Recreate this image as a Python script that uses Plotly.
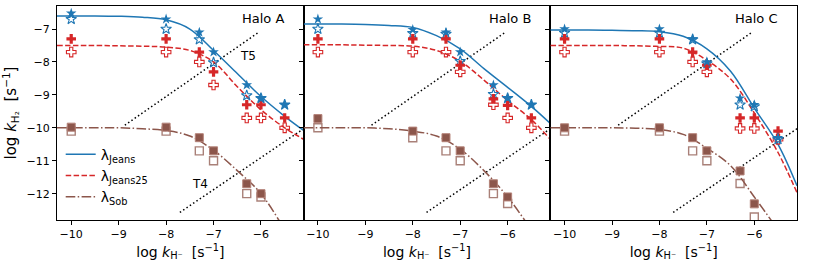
import plotly.graph_objects as go
from plotly.subplots import make_subplots

# ---------------- data ----------------
halo_names = ["Halo A", "Halo B", "Halo C"]

# model curves
curve_x = [-10.3, -9.5, -9.0, -8.5, -8.0, -7.5, -7.0, -6.5, -6.0, -5.5, -5.1]
sob_x = [-10.3, -9.5, -9.0, -8.5, -8.0, -7.5, -7.0, -6.5, -6.0, -5.5]

A_jeans = [-6.60, -6.60, -6.61, -6.64, -6.72, -7.00, -7.65, -8.35, -9.05, -9.65, -10.08]
A_jeans25 = [-7.50, -7.50, -7.51, -7.52, -7.55, -7.65, -8.00, -8.75, -9.45, -10.00, -10.35]
A_sob = [-10.0, -10.0, -10.0, -10.03, -10.08, -10.25, -10.68, -11.30, -12.00, -13.10]

B_jeans = [-6.85, -6.85, -6.86, -6.89, -6.95, -7.20, -7.60, -8.20, -8.77, -9.35, -9.87]
B_jeans25 = [-7.48, -7.48, -7.49, -7.50, -7.52, -7.65, -7.98, -8.55, -9.17, -9.75, -10.35]
B_sob = [-10.0, -10.0, -10.0, -10.03, -10.10, -10.25, -10.65, -11.30, -12.10, -13.10]

C_jeans = [-7.03, -7.03, -7.04, -7.05, -7.08, -7.22, -7.60, -8.28, -9.40, -10.50, -11.76]
C_jeans25 = [-7.50, -7.50, -7.50, -7.51, -7.53, -7.58, -7.95, -8.52, -9.55, -10.75, -11.97]
C_sob = [-10.0, -10.0, -10.0, -10.01, -10.05, -10.20, -10.62, -11.15, -12.10, -13.10]

# simulation points
pts_x = [-10, -8, -7.3, -7, -6.3, -6, -5.5]
sq_x = [-10, -8, -7.3, -7, -6.3, -6]

A_star_f = [-6.52, -6.70, -7.10, -7.70, -8.70, -9.12, -9.30]
A_star_o = [-6.70, -7.00, -7.32, -8.02, -9.02, -9.10, -9.30]
A_plus_f = [-7.30, -7.30, -7.70, -8.30, -9.30, -9.30, -9.70]
A_plus_o = [-7.70, -7.70, -8.00, -8.70, -9.70, -9.70, -10.00]
A_sq_f = [-9.98, -9.98, -10.30, -10.70, -11.70, -12.00]
A_sq_o = [-10.10, -10.10, -10.70, -11.00, -12.00, -12.10]

B_star_f = [-6.70, -7.02, -7.10, -7.70, -8.70, -9.10, -9.30]
B_star_o = [-7.00, -7.13, -7.15, -7.98, -8.98, -9.10, -9.30]
B_plus_f = [-7.30, -7.30, -7.30, -8.10, -9.12, -9.32, -9.70]
B_plus_o = [-7.70, -7.70, -7.70, -8.30, -9.30, -9.70, -10.00]
B_sq_f = [-9.72, -10.10, -10.30, -10.70, -11.70, -12.10]
B_sq_o = [-10.00, -10.30, -10.70, -11.00, -12.00, -12.30]

C_star_f = [-7.00, -7.00, -7.30, -8.00, -9.10, -9.30, -10.30]
C_star_o = [-7.12, -7.12, -7.32, -8.05, -9.30, -9.35, -10.35]
C_plus_f = [-7.30, -7.30, -7.70, -8.10, -9.70, -9.70, -10.10]
C_plus_o = [-7.70, -7.70, -8.00, -8.30, -10.02, -10.02, -10.35]
C_sq_f = [-10.00, -10.00, -10.30, -10.70, -11.31, -12.31]
C_sq_o = [-10.10, -10.10, -10.70, -11.00, -11.69, -12.71]

# temperature guide lines
T5_x = [-8.87, -6.07]
T5_y = [-9.92, -7.12]
T4_x = [-7.71, -5.0]
T4_y = [-12.57, -9.93]

x_ticks = [-10, -9, -8, -7, -6]
y_ticks = [-7, -8, -9, -10, -11, -12]

# ---------------- style ----------------
BLUE = "#1f77b4"
RED = "#d62728"
BROWN = "#8c564b"
FONT = "DejaVu Sans"

panels = [
    (A_jeans, A_jeans25, A_sob, A_star_f, A_star_o, A_plus_f, A_plus_o, A_sq_f, A_sq_o),
    (B_jeans, B_jeans25, B_sob, B_star_f, B_star_o, B_plus_f, B_plus_o, B_sq_f, B_sq_o),
    (C_jeans, C_jeans25, C_sob, C_star_f, C_star_o, C_plus_f, C_plus_o, C_sq_f, C_sq_o),
]

fig = make_subplots(rows=1, cols=3, shared_yaxes=True, horizontal_spacing=0)

for i, (jeans, j25, sob, sf, so, pf, po, qf, qo) in enumerate(panels):
    col = i + 1
    leg = (i == 0)
    # guide lines
    for gx, gy in [(T5_x, T5_y), (T4_x, T4_y)]:
        fig.add_trace(go.Scatter(x=gx, y=gy, mode="lines", showlegend=False,
                                 line=dict(color="black", width=1.5, dash="1.5px,2.5px")),
                      row=1, col=col)
    # curves
    fig.add_trace(go.Scatter(x=curve_x, y=jeans, mode="lines", name="λ<sub>Jeans</sub>",
                             showlegend=leg, line=dict(color=BLUE, width=1.5, shape="spline")),
                  row=1, col=col)
    fig.add_trace(go.Scatter(x=curve_x, y=j25, mode="lines", name="λ<sub>Jeans25</sub>",
                             showlegend=leg, line=dict(color=RED, width=1.5, dash="5.5px,2.4px",
                                                       shape="spline")),
                  row=1, col=col)
    fig.add_trace(go.Scatter(x=sob_x, y=sob, mode="lines", name="λ<sub>Sob</sub>",
                             showlegend=leg, line=dict(color=BROWN, width=1.5,
                                                       dash="9.6px,2.4px,1.5px,2.4px", shape="spline")),
                  row=1, col=col)
    # open markers
    fig.add_trace(go.Scatter(x=sq_x, y=qo, mode="markers", showlegend=False,
                             marker=dict(symbol="square-open", size=8, color="rgba(140,86,75,0.75)",
                                         line=dict(width=1.4))), row=1, col=col)
    fig.add_trace(go.Scatter(x=pts_x, y=po, mode="markers", showlegend=False,
                             marker=dict(symbol="cross-open", size=8, color=RED,
                                         line=dict(width=1.1))), row=1, col=col)
    fig.add_trace(go.Scatter(x=pts_x, y=so, mode="markers", showlegend=False,
                             marker=dict(symbol="star-open", size=8, color=BLUE,
                                         line=dict(width=1.1))), row=1, col=col)
    # filled markers
    fig.add_trace(go.Scatter(x=sq_x, y=qf, mode="markers", showlegend=False,
                             marker=dict(symbol="square", size=8, color=BROWN,
                                         line=dict(width=1, color="rgba(180,130,120,1)"))), row=1, col=col)
    fig.add_trace(go.Scatter(x=pts_x, y=pf, mode="markers", showlegend=False,
                             marker=dict(symbol="cross", size=8, color=RED,
                                         line=dict(width=0))), row=1, col=col)
    fig.add_trace(go.Scatter(x=pts_x, y=sf, mode="markers", showlegend=False,
                             marker=dict(symbol="star", size=8, color=BLUE,
                                         line=dict(width=0))), row=1, col=col)

    fig.add_annotation(x=-5.96, y=-6.69, text=halo_names[i], showarrow=False,
                       font=dict(size=13, color="black", family=FONT),
                       xref=f"x{'' if col == 1 else col}", yref=f"y{'' if col == 1 else col}")

# T labels (only panel A)
fig.add_annotation(x=-6.27, y=-7.83, text="T5", showarrow=False, xref="x", yref="y",
                   font=dict(size=12, color="black", family=FONT))
fig.add_annotation(x=-7.29, y=-11.72, text="T4", showarrow=False, xref="x", yref="y",
                   font=dict(size=12, color="black", family=FONT))

axis_common = dict(showline=True, linecolor="black", linewidth=1, mirror=True,
                   ticks="outside", ticklen=4, tickcolor="black", showgrid=False,
                   zeroline=False, tickfont=dict(size=11, color="black", family=FONT))

for col in range(1, 4):
    fig.update_xaxes(range=[-10.3, -5.1], tickvals=x_ticks,
                     ticktext=["−10", "−9", "−8", "−7", "−6"],
                     title=dict(text="log <i>k</i><sub>H⁻</sub>  [s<sup>−1</sup>]",
                                font=dict(size=14, color="black", family=FONT), standoff=6),
                     row=1, col=col, **axis_common)
    fig.update_yaxes(range=[-12.8, -6.3], tickvals=y_ticks, row=1, col=col, **axis_common)

fig.update_yaxes(ticktext=["−7", "−8", "−9", "−10", "−11", "−12"],
                 title=dict(text="log <i>k</i><sub>H₂</sub>  [s<sup>−1</sup>]",
                            font=dict(size=15, color="black", family=FONT), standoff=6),
                 row=1, col=1)

fig.update_layout(
    width=814, height=262,
    margin=dict(l=57, r=17, t=5, b=40),
    paper_bgcolor="white", plot_bgcolor="white",
    font=dict(family=FONT, color="black"),
    legend=dict(x=0.005, y=0.38, xanchor="left", yanchor="top",
                bgcolor="rgba(0,0,0,0)", font=dict(size=14, family=FONT),
                tracegroupgap=0, itemwidth=30),
)

fig.write_html("out.html", config={"displayModeBar": False},
               post_script="document.body.style.margin='0';document.body.style.overflow='hidden';")
